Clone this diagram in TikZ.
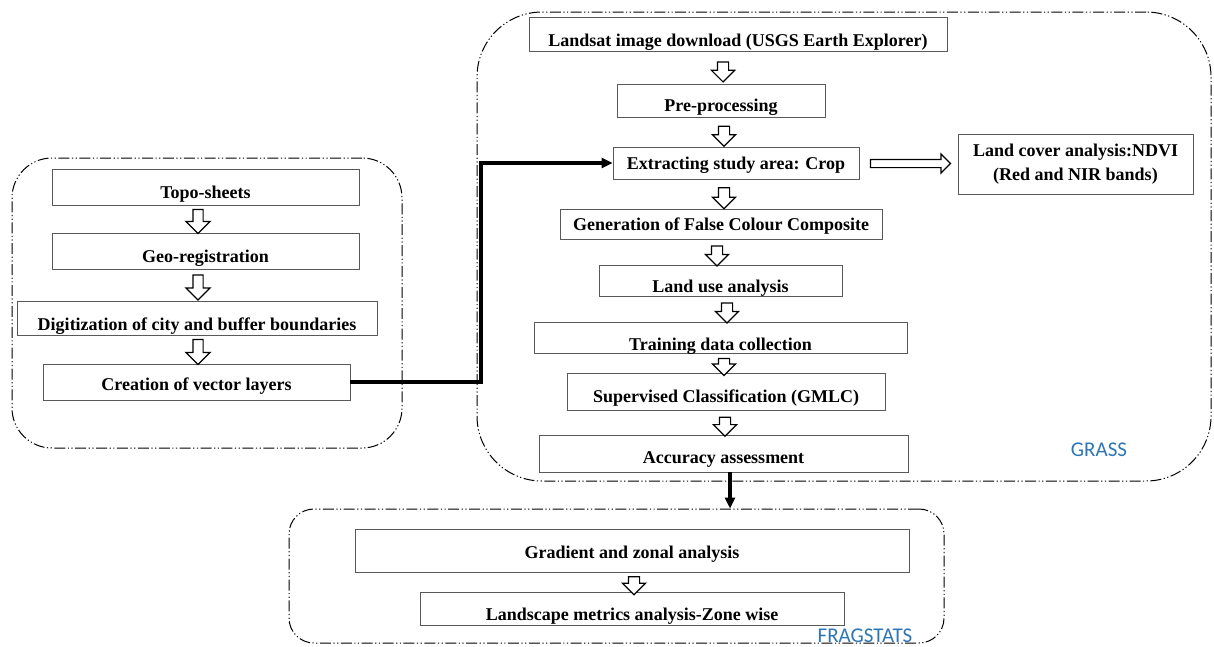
\documentclass[tikz,border=0pt]{standalone}
\usepackage{fontspec}
\setmainfont{Liberation Serif}
\newfontfamily\toolfont{Carlito}
\usetikzlibrary{shapes.arrows,arrows.meta}
\definecolor{toolblue}{RGB}{46,117,182}
\tikzset{
	box/.style={draw=black!65, line width=0.9pt, fill=white, inner sep=0pt, font=\bfseries\fontsize{18}{24}\selectfont},
	tb/.style 2 args={text height=#1pt, text depth=#2pt},
	group/.style={draw=black, line width=1pt, dash pattern=on 11pt off 2.5pt on 1.2pt off 2.5pt on 1.2pt off 2.5pt, inner sep=0pt},
	hollow/.style={single arrow, draw, line width=1.2pt, fill=white, inner sep=5pt, single arrow head extend=6pt, shape border rotate=270, minimum height=#1},
	link/.style={line width=3.5pt, -{Triangle[length=11pt,width=10pt]}},
	tool/.style={font=\toolfont\fontsize{21}{21}\selectfont, text=toolblue, anchor=base}
}
\begin{document}
\begin{tikzpicture}[x=1pt,y=-1pt]
\useasboundingbox (0,0) rectangle (1214,646);
% groups
\node[group, rounded corners=40pt, minimum width=390pt, minimum height=290pt] (maps) at (207,303) {};
\node[group, rounded corners=65pt, minimum width=734pt, minimum height=469pt] (grass) at (844,246.5) {};
\node[group, rounded corners=25pt, minimum width=655pt, minimum height=134pt] (frag) at (616.5,576) {};
% left column
\node[box, tb={29}{7}, minimum width=307pt] (topo) at (205.5,187) {Topo-sheets};
\node[box, tb={29}{7}, minimum width=307pt] (geo) at (205.5,251) {Geo-registration};
\node[box, tb={29}{5}, minimum width=360pt] (digit) at (197,318) {Digitization of city and buffer boundaries};
\node[box, tb={26}{10}, minimum width=307pt] (vect) at (196.5,382) {Creation of vector layers};
% GRASS column
\node[box, tb={29}{5}, minimum width=418pt] (landsat) at (738,34) {Landsat image download (USGS Earth Explorer)};
\node[box, tb={27}{6}, minimum width=208pt] (prep) at (721,100.5) {Pre-processing};
\node[box, tb={22}{10}, minimum width=246pt] (crop) at (736,163) {Extracting study area: Crop};
\node[box, align=center, minimum width=235pt, minimum height=60pt] (ndvi) at (1075.5,164) {Land cover analysis:NDVI\\(Red and NIR bands)};
\node[box, tb={21}{9}, minimum width=322pt] (fcc) at (721,224) {Generation of False Colour Composite};
\node[box, tb={27}{4}, minimum width=243pt] (luse) at (720.5,280.5) {Land use analysis};
\node[box, tb={28}{3}, minimum width=373pt] (train) at (720.5,337.5) {Training data collection};
\node[box, tb={29}{8}, minimum width=318pt] (gmlc) at (726,392) {Supervised Classification (GMLC)};
\node[box, tb={28}{9}, minimum width=369pt] (acc) at (723.5,453.5) {Accuracy assessment};
% FRAGSTATS column
\node[box, tb={29}{14}, minimum width=554pt] (zones) at (632,550.5) {Gradient and zonal analysis};
\node[box, tb={28}{5}, minimum width=424pt] (metrics) at (632,608.5) {Landscape metrics analysis-Zone wise};
\node[tool] (grasslbl) at (1099,456) {GRASS};
\node[tool] (fraglbl) at (865,642) {FRAGSTATS};
% hollow arrows
\foreach \a/\b/\l/\x in {topo/geo/24/198, geo/digit/25/198, digit/vect/25/198}{
	\coordinate (col) at (\x,0);
	\path (\a.south -| col) -- (\b.north -| col) node[midway, hollow=\l pt, inner sep=4.5pt, single arrow head extend=7pt] {};
}
\foreach \a/\b/\l/\x in {landsat/prep/20/723, prep/crop/20/724, crop/fcc/21/724, fcc/luse/20/717,
		luse/train/20/727, train/gmlc/17/724, gmlc/acc/19/725, zones/metrics/18/634}{
	\coordinate (col) at (\x,0);
	\path (\a.south -| col) -- (\b.north -| col) node[pos=0.55, hollow=\l pt] {};
}
\path (crop.east) -- (ndvi.west) node[midway, hollow=80pt, shape border rotate=0, inner sep=3.5pt, single arrow head extend=5.5pt] {};
% links
\coordinate (turn) at (481,300);
\draw[link] (vect.east) -| (turn) |- (crop.west);
\coordinate (drop) at ([xshift=6.5pt]acc.south);
\draw[link] (drop) -- (drop |- frag.north);
\end{tikzpicture}
\end{document}
